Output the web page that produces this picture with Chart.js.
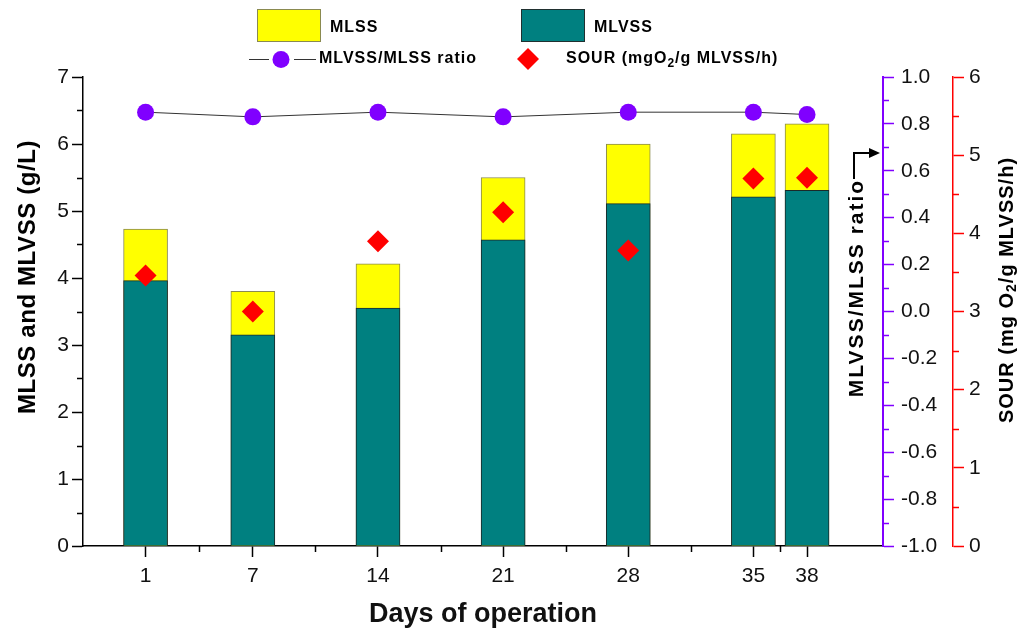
<!DOCTYPE html>
<html>
<head>
<meta charset="utf-8">
<script src="https://cdn.jsdelivr.net/npm/chart.js@4.4.1/dist/chart.umd.min.js"></script>
<style>
  html, body { margin: 0; padding: 0; background: #fff; }
</style>
</head>
<body>
<canvas id="grafico" width="1028" height="637"></canvas>
<script>
// Dados
const dias = [1, 7, 14, 21, 28, 35, 38];
const mlss = [4.73, 3.80, 4.21, 5.50, 6.00, 6.15, 6.30];
const mlvss = [3.96, 3.15, 3.55, 4.57, 5.11, 5.21, 5.31];
const razao = [0.85, 0.83, 0.85, 0.83, 0.85, 0.85, 0.84];
const sour = [3.46, 3.00, 3.90, 4.27, 3.78, 4.70, 4.71];

// Ticks secundários (menores)
const xMinor = [4, 10.5, 17.5, 24.5, 31.5, 36.5];
const yMinor = [0.5, 1.5, 2.5, 3.5, 4.5, 5.5, 6.5];
const razaoMinor = [-0.9, -0.7, -0.5, -0.3, -0.1, 0.1, 0.3, 0.5, 0.7, 0.9];
const sourMinor = [0.5, 1.5, 2.5, 3.5, 4.5, 5.5];

const AMARELO = '#ffff00';
const VERDE = '#008080';
const ROXO = '#8000ff';
const VERMELHO = '#ff0000';
const FONTE = '"Liberation Sans", Arial, sans-serif';
const FONTE_ESTREITA = '"Liberation Sans Narrow", "Liberation Sans", Arial, sans-serif';

const pontos = (vals) => dias.map((d, i) => ({ x: d, y: vals[i] }));

// Escreve texto com subscrito "2" (O2)
function textoComSub(ctx, partes, x, y, fonte, fonteSub) {
    let cx = x;
    partes.forEach(p => {
        ctx.font = p.sub ? fonteSub : fonte;
        ctx.fillText(p.t, cx, p.sub ? y + 5 : y);
        cx += ctx.measureText(p.t).width;
    });
    return cx;
}

function medirComSub(ctx, partes, fonte, fonteSub) {
    let w = 0;
    partes.forEach(p => {
        ctx.font = p.sub ? fonteSub : fonte;
        w += ctx.measureText(p.t).width;
    });
    return w;
}

const extras = {
    id: 'extras',
    afterDraw(chart) {
        const ctx = chart.ctx;
        const s = chart.scales;
        ctx.save();

        // ticks menores
        function minorY(scale, valores, cor, lado) {
            ctx.strokeStyle = cor;
            ctx.lineWidth = 1.5;
            const x0 = lado === 'left' ? scale.right : scale.left;
            valores.forEach(v => {
                const y = Math.round(scale.getPixelForValue(v)) + 0.5;
                ctx.beginPath();
                ctx.moveTo(x0, y);
                ctx.lineTo(lado === 'left' ? x0 - 6 : x0 + 6, y);
                ctx.stroke();
            });
        }
        minorY(s.y, yMinor, '#000', 'left');
        minorY(s.yRazao, razaoMinor, ROXO, 'right');
        minorY(s.ySour, sourMinor, VERMELHO, 'right');

        ctx.strokeStyle = '#000';
        ctx.lineWidth = 1.5;
        xMinor.forEach(v => {
            const x = Math.round(s.x.getPixelForValue(v)) + 0.5;
            ctx.beginPath();
            ctx.moveTo(x, s.x.top);
            ctx.lineTo(x, s.x.top + 6);
            ctx.stroke();
        });

        // títulos dos eixos verticais
        ctx.fillStyle = '#000';
        ctx.textBaseline = 'middle';
        ctx.textAlign = 'center';

        ctx.save();
        ctx.translate(28, 277);
        ctx.rotate(-Math.PI / 2);
        ctx.font = 'bold 24px ' + FONTE;
        ctx.letterSpacing = '0.6px';
        ctx.fillText('MLSS and MLVSS (g/L)', 0, 0);
        ctx.restore();

        ctx.save();
        ctx.translate(857, 288);
        ctx.rotate(-Math.PI / 2);
        ctx.font = 'bold 21px ' + FONTE;
        ctx.letterSpacing = '2px';
        ctx.fillText('MLVSS/MLSS ratio', 0, 0);
        ctx.restore();

        // seta do título da razão
        ctx.strokeStyle = '#000';
        ctx.lineWidth = 2;
        ctx.beginPath();
        ctx.moveTo(854, 179);
        ctx.lineTo(854, 153);
        ctx.lineTo(871, 153);
        ctx.stroke();
        ctx.beginPath();
        ctx.moveTo(880, 153);
        ctx.lineTo(869, 148);
        ctx.lineTo(869, 158);
        ctx.closePath();
        ctx.fill();

        const partesSour = [
            { t: 'SOUR (mg O' }, { t: '2', sub: true }, { t: '/g MLVSS/h)' }
        ];
        ctx.save();
        ctx.translate(1007, 290);
        ctx.rotate(-Math.PI / 2);
        ctx.textAlign = 'left';
        ctx.letterSpacing = '1px';
        const fT = 'bold 20px ' + FONTE, fTs = 'bold 14px ' + FONTE;
        const wT = medirComSub(ctx, partesSour, fT, fTs);
        textoComSub(ctx, partesSour, -wT / 2, 0, fT, fTs);
        ctx.restore();

        // legenda
        ctx.textAlign = 'left';
        ctx.letterSpacing = '1px';
        ctx.font = 'bold 16px ' + FONTE;
        ctx.lineWidth = 1;
        ctx.fillStyle = AMARELO;
        ctx.fillRect(257, 9, 63, 32);
        ctx.strokeStyle = '#8a8a50';
        ctx.strokeRect(257.5, 9.5, 63, 32);
        ctx.fillStyle = '#000';
        ctx.fillText('MLSS', 330, 28);

        ctx.fillStyle = VERDE;
        ctx.fillRect(521, 9, 63, 32);
        ctx.strokeStyle = '#203030';
        ctx.strokeRect(521.5, 9.5, 63, 32);
        ctx.fillStyle = '#000';
        ctx.fillText('MLVSS', 594, 28);

        ctx.strokeStyle = '#333';
        ctx.lineWidth = 1;
        ctx.beginPath();
        ctx.moveTo(249, 59.5); ctx.lineTo(269, 59.5);
        ctx.moveTo(294, 59.5); ctx.lineTo(316, 59.5);
        ctx.stroke();
        ctx.fillStyle = ROXO;
        ctx.beginPath();
        ctx.arc(281, 59.5, 8.5, 0, Math.PI * 2);
        ctx.fill();
        ctx.fillStyle = '#000';
        ctx.fillText('MLVSS/MLSS ratio', 319, 59);

        ctx.fillStyle = VERMELHO;
        ctx.beginPath();
        ctx.moveTo(528, 48); ctx.lineTo(539, 59); ctx.lineTo(528, 70); ctx.lineTo(517, 59);
        ctx.closePath();
        ctx.fill();
        ctx.fillStyle = '#000';
        textoComSub(ctx, [{ t: 'SOUR (mgO' }, { t: '2', sub: true }, { t: '/g MLVSS/h)' }],
            566, 59, 'bold 16px ' + FONTE, 'bold 12px ' + FONTE);

        ctx.restore();
    }
};

const ctx = document.getElementById('grafico').getContext('2d');
const grafico = new Chart(ctx, {
    type: 'bar',
    data: {
        datasets: [
            {
                type: 'scatter',
                label: 'SOUR',
                data: pontos(sour),
                yAxisID: 'ySour',
                pointStyle: 'rectRot',
                pointRadius: 11,
                backgroundColor: VERMELHO,
                borderColor: VERMELHO,
                borderWidth: 0,
                order: 0,
            },
            {
                type: 'line',
                label: 'MLVSS/MLSS ratio',
                data: pontos(razao),
                yAxisID: 'yRazao',
                borderColor: '#333',
                borderWidth: 1,
                pointRadius: 8.5,
                pointBackgroundColor: ROXO,
                pointBorderWidth: 0,
                pointBorderColor: ROXO,
                order: 1,
            },
            {
                label: 'MLVSS',
                data: pontos(mlvss),
                yAxisID: 'y',
                backgroundColor: VERDE,
                borderColor: '#1a2a2a',
                borderWidth: 1,
                barThickness: 44,
                grouped: false,
                order: 2,
            },
            {
                label: 'MLSS',
                data: pontos(mlss),
                yAxisID: 'y',
                backgroundColor: AMARELO,
                borderColor: '#8a8a50',
                borderWidth: 1,
                barThickness: 44,
                grouped: false,
                order: 3,
            },
        ],
    },
    options: {
        responsive: false,
        animation: false,
        layout: { padding: { top: 77, left: 0, right: 0, bottom: 0 } },
        plugins: {
            legend: { display: false },
            tooltip: { enabled: false },
        },
        scales: {
            x: {
                type: 'linear',
                position: 'bottom',
                min: -2.5,
                max: 42.25,
                offset: false,
                afterBuildTicks: (scale) => { scale.ticks = dias.map(v => ({ value: v })); },
                afterFit: (scale) => { scale.height = 91; },
                grid: { display: true, drawOnChartArea: false, offset: false, tickLength: 11, tickColor: '#000', tickWidth: 1.5 },
                border: { color: '#000', width: 1.5 },
                ticks: {
                    padding: 7,
                    color: '#111',
                    font: { family: FONTE_ESTREITA, size: 21 },
                    callback: (v) => String(v),
                },
                title: {
                    display: true,
                    text: 'Days of operation',
                    color: '#111',
                    font: { family: FONTE, size: 27, weight: 'bold' },
                    padding: { top: 0, bottom: 6 },
                },
            },
            y: {
                position: 'left',
                min: 0,
                max: 7,
                afterFit: (scale) => { scale.width = 83; },
                grid: { drawOnChartArea: false, tickLength: 11, tickColor: '#000', tickWidth: 1.5 },
                border: { color: '#000', width: 1.5 },
                ticks: {
                    stepSize: 1,
                    padding: 3,
                    color: '#111',
                    font: { family: FONTE, size: 21 },
                },
            },
            yRazao: {
                position: 'right',
                weight: 0,
                min: -1,
                max: 1,
                afterFit: (scale) => { scale.width = 70; },
                grid: { drawOnChartArea: false, tickLength: 11, tickColor: ROXO, tickWidth: 1.5 },
                border: { color: ROXO, width: 2 },
                ticks: {
                    stepSize: 0.2,
                    padding: 7,
                    color: '#111',
                    font: { family: FONTE, size: 21 },
                    callback: (v) => (Math.abs(v) < 1e-9 ? '0.0' : Number(v).toFixed(1)),
                },
            },
            ySour: {
                position: 'right',
                weight: 1,
                min: 0,
                max: 6,
                afterFit: (scale) => { scale.width = 75; },
                grid: { drawOnChartArea: false, tickLength: 11, tickColor: VERMELHO, tickWidth: 1.5 },
                border: { color: VERMELHO, width: 1.5 },
                ticks: {
                    stepSize: 1,
                    padding: 5,
                    color: '#111',
                    font: { family: FONTE, size: 21 },
                },
            },
        },
    },
    plugins: [extras],
});
</script>
</body>
</html>
